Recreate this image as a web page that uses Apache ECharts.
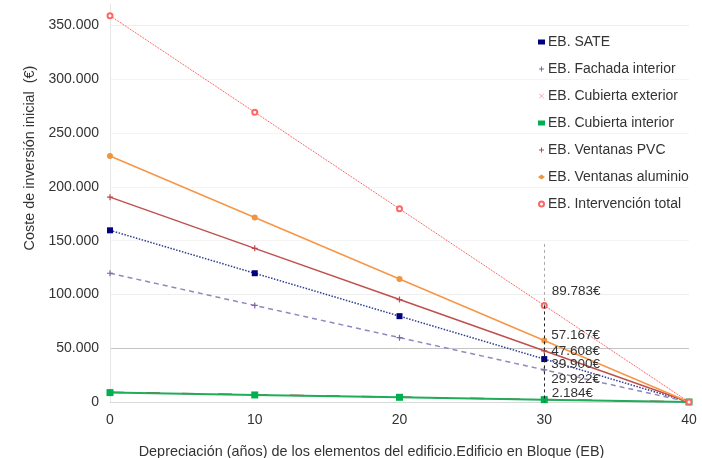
<!DOCTYPE html>
<html>
<head>
<meta charset="utf-8">
<script src="https://cdn.jsdelivr.net/npm/echarts@6/dist/echarts.min.js"></script>
<style>
  html, body { margin: 0; padding: 0; background: #fff; }
  #chart { width: 702px; height: 458px; }
</style>
</head>
<body>
<div id="chart"></div>
<script>
// years of depreciation (x) and cost per element (€)
const years = [0, 10, 20, 30, 40];
const sate = [159600, 119700, 79800, 39900, 0];
const fachadaInterior = [119688, 89766, 59844, 29922, 0];
const cubiertaExterior = [9100, 6825, 4550, 2275, 0];
const cubiertaInterior = [8736, 6552, 4368, 2184, 0];
const ventanasPVC = [190432, 142824, 95216, 47608, 0];
const ventanasAluminio = [228668, 171501, 114334, 57167, 0];
const intervencionTotal = [359132, 269349, 179566, 89783, 0];
const yTicks = [0, 50000, 100000, 150000, 200000, 250000, 300000, 350000];

const fmt = v => String(Math.round(v)).replace(/\B(?=(\d{3})+(?!\d))/g, '.');
const pts = arr => years.map((x, i) => [x, arr[i]]);

// label at year 30 only, shifted to stack like the original
function withLabel(arr, dy) {
    return pts(arr).map((p, i) => i !== 3 ? p : {
        value: p,
        label: {
            show: true, position: 'right', distance: 4, offset: [0, dy],
            formatter: d => fmt(d.value[1]) + '€',
            color: '#333', fontSize: 13.5, fontFamily: 'Liberation Sans'
        }
    });
}

const plusPath = 'path://M4,0H6V4H10V6H6V10H4V6H0V4H4Z';
const xPath = 'path://M0,1L1,0L5,4L9,0L10,1L6,5L10,9L9,10L5,6L1,10L0,9L4,5Z';

let options = {
    animation: false,
    textStyle: { fontFamily: 'Liberation Sans' },
    grid: { left: 110, right: 13, top: 4, bottom: 56, outerBoundsMode: 'none' },
    legend: {
        orient: 'vertical', left: 533, top: 30, itemGap: 13,
        itemWidth: 7, itemHeight: 5,
        textStyle: { fontSize: 14, color: '#333', padding: [0, 0, 0, -2] },
        data: [
            { name: 'EB. SATE', icon: 'rect' },
            { name: 'EB. Fachada interior', icon: plusPath },
            { name: 'EB. Cubierta exterior', icon: xPath },
            { name: 'EB. Cubierta interior', icon: 'rect' },
            { name: 'EB. Ventanas PVC', icon: plusPath },
            { name: 'EB. Ventanas aluminio', icon: 'diamond' },
            { name: 'EB. Intervención total', icon: 'emptyCircle' }
        ]
    },
    xAxis: {
        type: 'value', min: 0, max: 40, interval: 10,
        name: 'Depreciación (años) de los elementos del edificio.Edificio en Bloque (EB)',
        nameLocation: 'middle', nameGap: 43,
        nameTextStyle: { fontSize: 14.4, color: '#333', padding: [0, 56, 0, 0] },
        axisLine: { lineStyle: { color: '#d9d9d9' } },
        axisTick: { show: false },
        axisLabel: { fontSize: 14, color: '#333', margin: 11 },
        splitLine: { show: false }
    },
    yAxis: {
        type: 'value', min: 0, max: 370000, interval: 50000,
        axisLine: { show: true, lineStyle: { color: '#e6e6e6' } },
        axisTick: { show: false },
        axisLabel: {
            fontSize: 14, color: '#333', margin: 11,
            formatter: v => yTicks.includes(v) ? fmt(v) : ''
        },
        splitLine: {
            lineStyle: {
                color: ['#d9d9d9', '#c4c4c4', '#eeeeee', '#f4f4f4', '#f4f4f4',
                        '#f4f4f4', '#f4f4f4', '#eeeeee', 'rgba(0,0,0,0)']
            }
        }
    },
    graphic: [{
        type: 'text', x: 30, y: 158, rotation: Math.PI / 2,
        style: {
            text: 'Coste de inversión inicial  (€)', fontSize: 14.4, fill: '#333',
            fontFamily: 'Liberation Sans', align: 'center', verticalAlign: 'middle'
        }
    }],
    series: [
        {
            name: 'EB. SATE', type: 'line', data: withLabel(sate, 5),
            symbol: 'rect', symbolSize: 6, color: '#000080',
            lineStyle: { width: 1.5, type: 'dotted', color: '#2a3f8f' }
        },
        {
            name: 'EB. Fachada interior', type: 'line', data: withLabel(fachadaInterior, 9),
            symbol: plusPath, symbolSize: 6, color: '#8064a2',
            lineStyle: { width: 1.5, type: [5, 4], color: '#9387bf' }
        },
        {
            name: 'EB. Cubierta exterior', type: 'line', data: pts(cubiertaExterior),
            symbol: xPath, symbolSize: 5, color: '#f4a6a6',
            lineStyle: { width: 1.5, type: [14, 22], color: '#d33a3a' }
        },
        {
            name: 'EB. Cubierta interior', type: 'line', data: withLabel(cubiertaInterior, -6),
            symbol: 'rect', symbolSize: 7, color: '#00b050',
            lineStyle: { width: 2, color: '#1fad5a' }
        },
        {
            name: 'EB. Ventanas PVC', type: 'line', data: withLabel(ventanasPVC, 0),
            symbol: plusPath, symbolSize: 6, color: '#b94a48',
            lineStyle: { width: 1.5, color: '#c0504d' }
        },
        {
            name: 'EB. Ventanas aluminio', type: 'line', data: withLabel(ventanasAluminio, -5),
            symbol: 'circle', symbolSize: 6, color: '#f0953f',
            lineStyle: { width: 1.5, color: '#f79646' }
        },
        {
            name: 'EB. Intervención total', type: 'line', data: withLabel(intervencionTotal, -14),
            symbol: 'emptyCircle', symbolSize: 5, color: '#ff6666',
            lineStyle: { width: 1, type: 'dotted', color: '#ff3b3b' },
            markLine: {
                silent: true, symbol: 'none', label: { show: false },
                data: [
                    [{ coord: [30, 147000], lineStyle: { color: '#aaa', type: [3, 3], width: 1 } },
                     { coord: [30, 89783] }],
                    [{ coord: [30, 89783], lineStyle: { color: '#222', type: [3, 3], width: 1 } },
                     { coord: [30, 0] }]
                ]
            }
        }
    ]
};

let chart = echarts.init(document.getElementById('chart'));
chart.setOption(options);
</script>
</body>
</html>
